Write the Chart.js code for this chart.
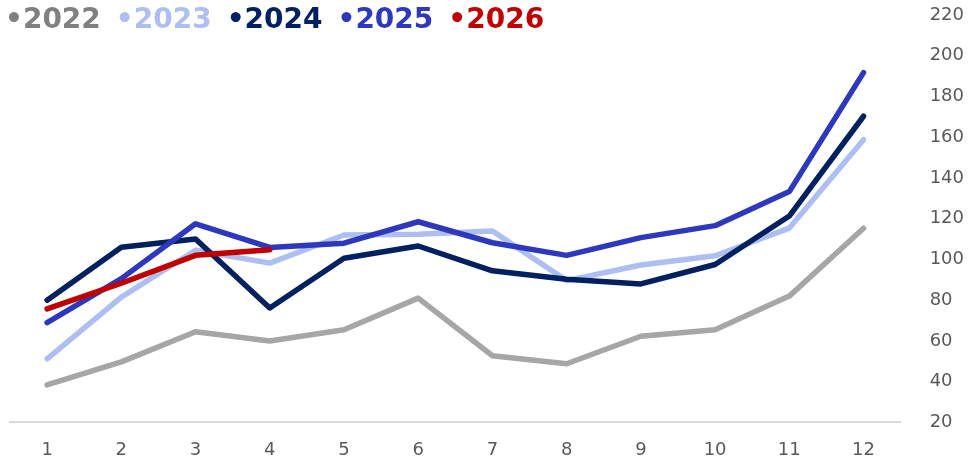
<!DOCTYPE html>
<html><head><meta charset="utf-8">
<script src="https://cdn.jsdelivr.net/npm/chart.js@4"></script>
<style>html,body{margin:0;padding:0;background:#fff}#wrap{width:972px;height:466px}</style>
</head><body><div id="wrap"><canvas id="c" width="972" height="466"></canvas></div>
<script>
const months = ['1','2','3','4','5','6','7','8','9','10','11','12'];
const yTicks = [20,40,60,80,100,120,140,160,180,200,220];
const seriesNames = ['2022','2023','2024','2025','2026'];
const s2022 = [38.4, 49.7, 64.5, 60.0, 65.5, 81.0, 52.7, 48.8, 62.3, 65.5, 82.0, 115.3];
const s2023 = [51.2, 81.5, 104.5, 98.2, 112.0, 112.4, 114.0, 89.6, 97.3, 101.8, 115.4, 158.8];
const s2024 = [80.0, 106.0, 110.0, 76.2, 100.6, 106.6, 94.4, 90.3, 88.0, 97.5, 121.3, 170.3];
const s2025 = [69.0, 90.6, 117.5, 105.9, 108.0, 118.5, 108.2, 102.0, 110.7, 116.6, 133.3, 191.7];
const s2026 = [75.7, 88.3, 102.0, 104.8];

const lineColors = ['#A6A6A6','#ADBFF1','#002060','#2E38BC','#C00000'];
const legendColors = ['#808080','#ADBFF1','#002060','#2E38BC','#C00000'];
const allSeries = [s2022, s2023, s2024, s2025, s2026];

const legendPos = {
  id: 'legendPos',
  beforeLayout(chart) {
    const l = chart.legend;
    if (l && !l._patched) {
      const f = l.fit;
      l.fit = function() { f.call(this); this.height = 0; };
      l._patched = true;
    }
  },
  afterLayout(chart) {
    const l = chart.legend;
    l.left = -10; l.right = 972; l.top = 6; l.bottom = 50;
  }
};

new Chart(document.getElementById('c'), {
  type: 'line',
  data: {
    labels: months,
    datasets: seriesNames.map((n, i) => ({
      label: n,
      data: allSeries[i],
      borderColor: lineColors[i],
      backgroundColor: lineColors[i],
      borderWidth: 5.5,
      pointRadius: 0,
      pointHoverRadius: 0,
      tension: 0,
      fill: false,
      borderJoinStyle: 'round',
      borderCapStyle: 'round',
      order: 5 - i
    }))
  },
  options: {
    responsive: false,
    animation: false,
    devicePixelRatio: 1,
    layout: { padding: { left: 10, right: 5, top: 15, bottom: 2 } },
    plugins: {
      tooltip: { enabled: false },
      legend: {
        display: true,
        position: 'top',
        align: 'start',
        labels: {
          boxWidth: 0,
          boxHeight: 0,
          padding: 1,
          font: { family: 'DejaVu Sans', weight: 'bold', size: 28 },
          generateLabels: () => seriesNames.map((n, i) => ({
            text: '\u2022' + n,
            fontColor: legendColors[i],
            fillStyle: legendColors[i],
            strokeStyle: legendColors[i],
            lineWidth: 0,
            hidden: false,
            datasetIndex: i
          }))
        }
      }
    },
    scales: {
      x: {
        offset: true,
        grid: { display: false, drawTicks: true, tickLength: 14 },
        border: { display: true, color: '#D9D9D9', width: 2 },
        ticks: { color: '#595959', font: { family: 'DejaVu Sans', size: 18 }, padding: 3 }
      },
      y: {
        position: 'right',
        min: 20,
        max: 220,
        afterBuildTicks: ax => { ax.ticks = yTicks.map(v => ({ value: v })); },
        grid: { display: false, drawTicks: true, tickLength: 26 },
        border: { display: false },
        ticks: { color: '#595959', font: { family: 'DejaVu Sans', size: 18 }, padding: 3 }
      }
    }
  },
  plugins: [legendPos]
});
</script>
</body></html>
